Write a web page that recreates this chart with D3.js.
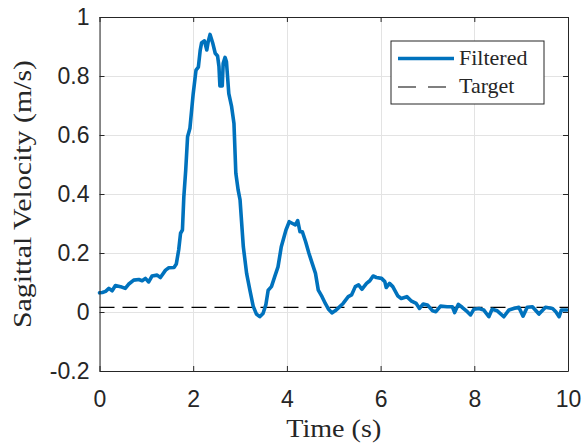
<!DOCTYPE html>
<html>
<head>
<meta charset="utf-8">
<script src="https://cdn.jsdelivr.net/npm/d3@7"></script>
<style>
  html, body { margin: 0; padding: 0; background: #fff; }
  svg { display: block; }
</style>
</head>
<body>
<svg id="chart" width="582" height="444"></svg>
<script>
// Sagittal velocity trace (time in s, velocity in m/s)
const time = [
  0.00, 0.06, 0.13, 0.20, 0.27, 0.34, 0.45, 0.55, 0.62, 0.73, 0.84, 0.91, 0.98, 1.05,
  1.12, 1.23, 1.30, 1.41, 1.48, 1.59, 1.64, 1.69, 1.73, 1.77, 1.80, 1.84, 1.88, 1.93,
  2.00, 2.06, 2.11, 2.15, 2.18, 2.24, 2.29, 2.32, 2.36, 2.42, 2.47, 2.52, 2.55, 2.57,
  2.62, 2.64, 2.68, 2.71, 2.76, 2.82, 2.87, 2.91, 2.96, 3.00, 3.07, 3.14, 3.21, 3.28,
  3.35, 3.42, 3.49, 3.55, 3.60, 3.67, 3.74, 3.81, 3.88, 3.91, 3.98, 4.05, 4.12, 4.18,
  4.23, 4.28, 4.33, 4.40, 4.47, 4.54, 4.61, 4.67, 4.75, 4.82, 4.89, 4.96, 5.03, 5.10,
  5.20, 5.31, 5.38, 5.46, 5.53, 5.60, 5.70, 5.77, 5.84, 5.91, 6.02, 6.09, 6.12, 6.19,
  6.26, 6.37, 6.44, 6.56, 6.65, 6.76, 6.83, 6.91, 7.00, 7.11, 7.18, 7.28, 7.42, 7.53,
  7.58, 7.66, 7.74, 7.85, 7.92, 7.99, 8.10, 8.20, 8.31, 8.38, 8.49, 8.63, 8.74, 8.84,
  8.95, 9.04, 9.13, 9.24, 9.38, 9.52, 9.67, 9.74, 9.81, 9.86, 9.98
];
const velocity = [
  0.065, 0.066, 0.070, 0.080, 0.072, 0.090, 0.086, 0.080, 0.094, 0.108, 0.110, 0.106, 0.114, 0.102,
  0.122, 0.125, 0.117, 0.142, 0.150, 0.151, 0.163, 0.210, 0.267, 0.278, 0.390, 0.480, 0.594, 0.623,
  0.740, 0.820, 0.830, 0.888, 0.913, 0.919, 0.888, 0.916, 0.941, 0.910, 0.877, 0.868, 0.832, 0.766,
  0.766, 0.843, 0.863, 0.848, 0.740, 0.696, 0.639, 0.470, 0.413, 0.380, 0.221, 0.131, 0.074, 0.020,
  -0.007, -0.016, -0.005, 0.024, 0.074, 0.086, 0.120, 0.153, 0.221, 0.238, 0.278, 0.306, 0.300, 0.295,
  0.310, 0.272, 0.272, 0.238, 0.199, 0.165, 0.131, 0.074, 0.052, 0.029, 0.009, -0.003, 0.004, 0.014,
  0.029, 0.052, 0.058, 0.086, 0.092, 0.077, 0.097, 0.106, 0.122, 0.117, 0.114, 0.103, 0.083, 0.097,
  0.086, 0.054, 0.046, 0.052, 0.038, 0.029, 0.012, 0.027, 0.024, 0.004, 0.001, 0.020, 0.018, 0.018,
  -0.002, 0.026, 0.016, 0.001, -0.010, 0.009, 0.012, 0.007, -0.016, 0.009, 0.004, -0.016, 0.007, 0.012,
  0.016, -0.014, 0.016, 0.018, -0.007, 0.016, 0.012, 0.001, -0.016, 0.007, 0.007
];
const targetTime = [0, 10];
const targetVelocity = [0.016, 0.016];

const xTicks = [0, 2, 4, 6, 8, 10];
const yTicks = [-0.2, 0, 0.2, 0.4, 0.6, 0.8, 1];
const seriesNames = ["Filtered", "Target"];

const blue = "#0072BD";
const axisColor = "#262626";
const gridColor = "#e3e3e3";
const tickFont = "'Liberation Sans', Arial, Helvetica, sans-serif";
const labelFont = "'Liberation Serif', 'Times New Roman', serif";

const plot = { left: 99.5, right: 568, top: 17, bottom: 371 };

const svg = d3.select("#chart");

const x = d3.scaleLinear().domain([0, 10]).range([plot.left, plot.right]);
const y = d3.scaleLinear().domain([-0.2, 1]).range([plot.bottom, plot.top]);

// grid
const grid = svg.append("g").attr("stroke", gridColor).attr("stroke-width", 1);
grid.selectAll("line.gx").data(xTicks).join("line")
  .attr("x1", d => Math.round(x(d)) + 0.5).attr("x2", d => Math.round(x(d)) + 0.5)
  .attr("y1", plot.top).attr("y2", plot.bottom);
grid.selectAll("line.gy").data(yTicks).join("line")
  .attr("y1", d => Math.round(y(d)) + 0.5).attr("y2", d => Math.round(y(d)) + 0.5)
  .attr("x1", plot.left).attr("x2", plot.right);

// data lines
const pts = time.map((t, i) => [t, velocity[i]]);
const line = d3.line().x(d => x(d[0])).y(d => y(d[1]));

svg.append("path")
  .datum(targetTime.map((t, i) => [t, targetVelocity[i]]))
  .attr("d", line)
  .attr("fill", "none")
  .attr("stroke", "#000")
  .attr("stroke-width", 1.2)
  .attr("stroke-dasharray", "15,8");

svg.append("path")
  .datum(pts)
  .attr("d", line)
  .attr("fill", "none")
  .attr("stroke", blue)
  .attr("stroke-width", 3.6)
  .attr("stroke-linejoin", "round")
  .attr("stroke-linecap", "round");

// axes with inward ticks
function styleAxis(g) {
  g.select(".domain").attr("stroke", axisColor).attr("stroke-width", 1);
  g.selectAll(".tick line").attr("stroke", axisColor).attr("stroke-width", 1);
  g.selectAll(".tick text").attr("fill", axisColor)
    .style("font-family", tickFont).style("font-size", "23px");
}
// plain hyphen for negatives
const fmt = d => String(+d.toFixed(1));

svg.append("g")
  .attr("transform", `translate(0,${plot.bottom})`)
  .call(d3.axisBottom(x).tickValues(xTicks).tickSize(-5).tickSizeOuter(0).tickPadding(20).tickFormat(fmt))
  .call(styleAxis);
svg.append("g")
  .attr("transform", `translate(0,${plot.top})`)
  .call(d3.axisTop(x).tickValues(xTicks).tickSize(-5).tickSizeOuter(0).tickFormat(""))
  .call(styleAxis);
svg.append("g")
  .attr("transform", `translate(${plot.left},0)`)
  .call(d3.axisLeft(y).tickValues(yTicks).tickSize(-5).tickSizeOuter(0).tickPadding(10).tickFormat(fmt))
  .call(styleAxis);
svg.append("g")
  .attr("transform", `translate(${plot.right},0)`)
  .call(d3.axisRight(y).tickValues(yTicks).tickSize(-5).tickSizeOuter(0).tickFormat(""))
  .call(styleAxis);

// axis titles
svg.append("text")
  .attr("x", (plot.left + plot.right) / 2)
  .attr("y", 437)
  .attr("text-anchor", "middle")
  .attr("fill", axisColor)
  .attr("textLength", 95)
  .attr("lengthAdjust", "spacingAndGlyphs")
  .style("font-family", labelFont).style("font-size", "26px")
  .text("Time (s)");

svg.append("text")
  .attr("transform", `translate(31,${(plot.top + plot.bottom) / 2}) rotate(-90)`)
  .attr("text-anchor", "middle")
  .attr("fill", axisColor)
  .attr("textLength", 268)
  .attr("lengthAdjust", "spacingAndGlyphs")
  .style("font-family", labelFont).style("font-size", "26px")
  .text("Sagittal Velocity (m/s)");

// legend
const legend = svg.append("g");
legend.append("rect")
  .attr("x", 391).attr("y", 41).attr("width", 153).attr("height", 63)
  .attr("fill", "#fff").attr("stroke", axisColor).attr("stroke-width", 1);
const legendRows = [
  { name: seriesNames[0], color: blue, width: 3.6, dash: null, y: 58.5 },
  { name: seriesNames[1], color: "#000", width: 1.2, dash: "18,12", y: 87 }
];
legendRows.forEach(r => {
  legend.append("line")
    .attr("x1", 398).attr("x2", 454).attr("y1", r.y).attr("y2", r.y)
    .attr("stroke", r.color).attr("stroke-width", r.width)
    .attr("stroke-dasharray", r.dash);
  legend.append("text")
    .attr("x", 459).attr("y", r.y + 6)
    .attr("fill", axisColor)
    .style("font-family", labelFont).style("font-size", "22px")
    .text(r.name);
});
</script>
</body>
</html>
